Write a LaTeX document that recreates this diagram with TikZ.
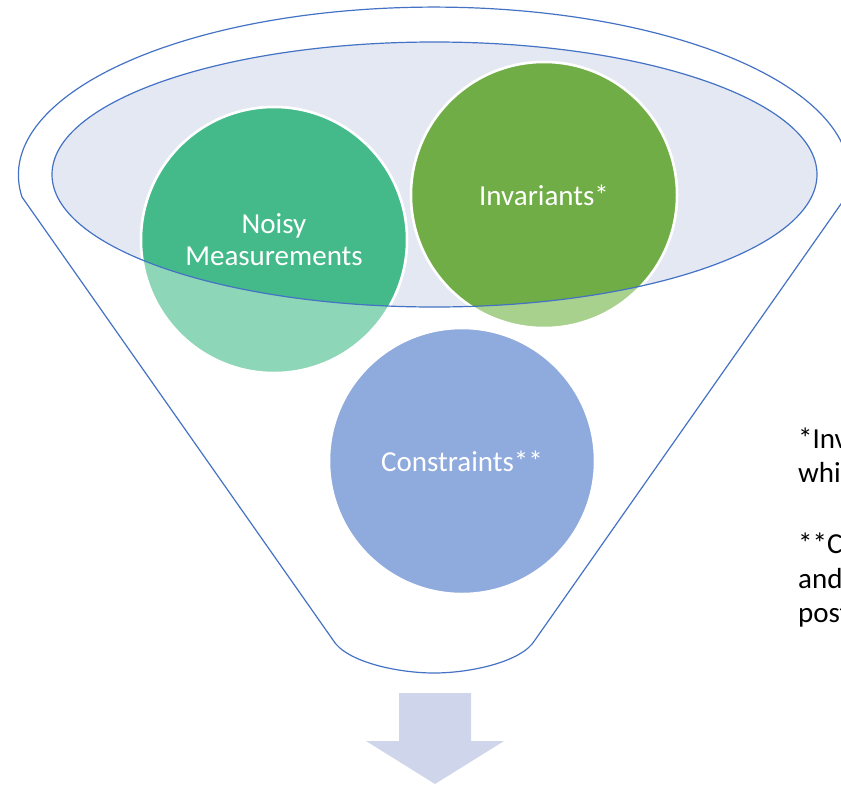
\documentclass[tikz,border=0pt]{standalone}
\usepackage{fontspec}
\setmainfont{Carlito}
\definecolor{rimline}{RGB}{68,114,196}
\definecolor{rimfill}{RGB}{227,232,243}
\definecolor{noisyfull}{RGB}{68,186,139}
\definecolor{noisylight}{RGB}{142,214,184}
\definecolor{invfull}{RGB}{112,173,71}
\definecolor{invlight}{RGB}{169,209,142}
\definecolor{consfill}{RGB}{143,170,220}
\definecolor{arrowfill}{RGB}{207,213,234}
\usetikzlibrary{calc}

\begin{document}
\begin{tikzpicture}[x=1pt,y=-1pt,
    bubble/.style={circle, draw=white, line width=2.5pt, minimum size=266pt, inner sep=0pt},
    bubbletext/.style={text=white, align=center, font=\fontsize{29}{32}\selectfont},
    notetext/.style={anchor=base west, inner sep=0pt, font=\fontsize{29}{35}\selectfont}]
      \useasboundingbox (0,0) rectangle (841,785);
      % funnel body
      \draw[rimline, line width=1.2pt, fill=white] (22,197) arc[start angle=172.5, end angle=367.5, x radius=415.5, y radius=168]
          -- (535,640) .. controls (522,662) and (470,673) .. (434,673) .. controls (398,673) and (346,662) .. (333,640) -- cycle;
      \coordinate (rim) at (434.5,174.5);
      \fill[rimfill] (rim) ellipse[x radius=382.5, y radius=132.5];
      % circles, light part below the rim
      \node[bubble, fill=noisylight] (noisy) at (274,240) {};
      \node[bubble, fill=invlight] (inv) at (544,195) {};
      \node[bubble, fill=consfill] (cons) at (462,461) {};
      \begin{scope}
	  \clip (rim) ellipse[x radius=382.5, y radius=132.5];
	  \filldraw[fill=noisyfull, draw=white, line width=2.5pt] (noisy.center) circle[radius=133];
	  \filldraw[fill=invfull, draw=white, line width=2.5pt] (inv.center) circle[radius=133];
      \end{scope}
      \draw[rimline, line width=1.2pt] (rim) ellipse[x radius=382.5, y radius=132.5];
      \node[bubbletext] (noisytext) at (noisy) {Noisy\\Measurements};
      \node[bubbletext] (invtext) at (inv) {Invariants*};
      \node[bubbletext] (constext) at (cons) {Constraints**};
      % output arrow
      \fill[arrowfill] (399,693) -- (471,693) -- (471,741) -- (504,741) -- (435,784) -- (366,741) -- (399,741) -- cycle;
      % footnotes, cut at the right edge
      \foreach [count=\i] \word/\ypos in {*Inv/448, whi/482, **C/553, and/588, post/622}
	  \node[notetext] (note\i) at (798,\ypos) {\word};
\end{tikzpicture}
\end{document}
